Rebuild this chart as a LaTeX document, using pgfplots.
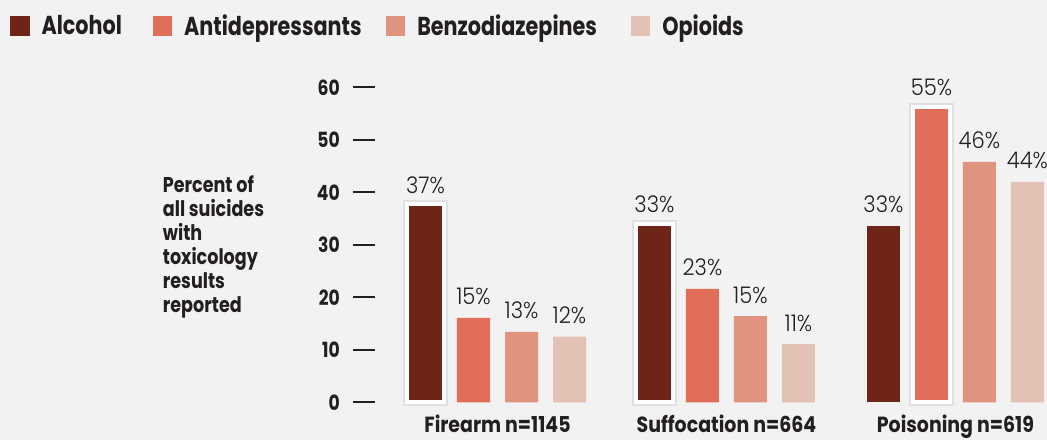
\documentclass[border=0pt]{standalone}
\usepackage{pgfplots}
\pgfplotsset{compat=1.18}
\usepackage{fontspec}
\setmainfont{Poppins}
\newfontfamily\bfam{Poppins}[FakeStretch=0.82]
\newfontfamily\catfam{Poppins}[FakeStretch=0.865]
\newfontfamily\legfam{Poppins}[FakeStretch=0.80]
\newfontfamily\lfam{Poppins Light}[FakeStretch=0.92]
\definecolor{bg}{HTML}{F2F2F2}
\definecolor{txt}{HTML}{231F20}
\definecolor{calc}{HTML}{6E2416}
\definecolor{cant}{HTML}{E06E58}
\definecolor{cben}{HTML}{E0937E}
\definecolor{copi}{HTML}{E4C1B5}
\begin{document}
\begin{tikzpicture}[x=1bp,y=1bp]
\fill[bg] (0,0) rectangle (1047,440);
\useasboundingbox (0,0) rectangle (1047,440);
\begin{axis}[
  at={(375bp,37.7bp)}, anchor=south west,
  scale only axis, width=672bp, height=315bp,
  xmin=-0.535, xmax=2.40, ymin=0, ymax=60,
  clip=false,
  ybar, bar width=33bp,
  axis lines*=left, axis line style={draw=none},
  xtick={0,1,2},
  xticklabels={Firearm n=1145, Suffocation n=664, Poisoning n=619},
  xtick style={draw=none},
  ytick={0,10,20,30,40,50,60},
  tick align=outside, major tick length=22bp,
  ytick style={draw=txt, line width=1.7bp},
  /pgf/number format/assume math mode=true,
  yticklabel style={font=\bfam\bfseries\fontsize{21}{21}\selectfont, text=txt, inner sep=0pt, xshift=-13bp},
  xticklabel style={font=\catfam\bfseries\fontsize{22}{22}\selectfont, text=txt, anchor=base, inner sep=0pt, yshift=-8.5bp},
  legend columns=4,
  legend style={at={(-0.5432,1.1946)}, anchor=west, draw=none, fill=none,
    font=\legfam\bfseries\fontsize{26}{26}\selectfont, text=txt,
    inner sep=0pt, outer sep=0pt, nodes={inner sep=0pt},
    /tikz/every odd column/.append style={column sep=12bp},
    /tikz/every even column/.append style={column sep=0bp}},
  legend image code/.code={\fill[#1,draw=none] (0bp,-9.6bp) rectangle (19.6bp,9.6bp);},
  lbl/.style={nodes near coords, point meta=explicit symbolic,
    every node near coord/.append style={font=\lfam\fontsize{23}{23}\selectfont, text=txt, anchor=base, inner sep=0pt, yshift=#1}},
  lbl/.default=13bp,
  shadow/.style={forget plot, fill=none, draw=black, draw opacity=0.07, line width=8bp, bar width=37bp},
  hl/.style={forget plot, draw=white, line width=4bp, bar width=37bp},
]
% regular bars
\addplot[fill=calc, draw=none, bar shift=-72bp, lbl] coordinates {(2,33.6) [33\%]};
\addplot[fill=cant, draw=none, bar shift=-24bp, lbl] coordinates {(0,16.1) [15\%] (1,21.6) [23\%]};
\addplot[fill=cben, draw=none, bar shift=24bp, lbl] coordinates {(0,13.4) [13\%] (1,16.4) [15\%] (2,45.8) [46\%]};
\addplot[fill=copi, draw=none, bar shift=72bp, lbl] coordinates {(0,12.5) [12\%] (1,11.1) [11\%] (2,42.0) [44\%]};
\legend{\makebox[111bp][l]{Alcohol}, \makebox[201.5bp][l]{Antidepressants}, \makebox[213.5bp][l]{Benzodiazepines}, Opioids}
% highlighted bars
\addplot[shadow, bar shift=-72bp] coordinates {(0,37.7) (1,34.0)};
\addplot[shadow, bar shift=-24bp] coordinates {(2,56.3)};
\addplot[hl, fill=calc, bar shift=-72bp, lbl=11bp] coordinates {(0,37.7) [37\%] (1,34.0) [33\%]};
\addplot[hl, fill=cant, bar shift=-24bp, lbl=11bp] coordinates {(2,56.3) [55\%]};
\end{axis}
\begin{scope}[every node/.style={anchor=base west, inner sep=0pt, text=txt, font=\bfam\bfseries\fontsize{21.5}{21.5}\selectfont}]
\node at (162.7,247.7) {Percent of};
\node at (162.7,223.6) {all suicides};
\node at (162.7,199.5) {with};
\node at (162.7,175.4) {toxicology};
\node at (162.7,151.3) {results};
\node at (162.7,127.2) {reported};
\end{scope}
\end{tikzpicture}
\end{document}
